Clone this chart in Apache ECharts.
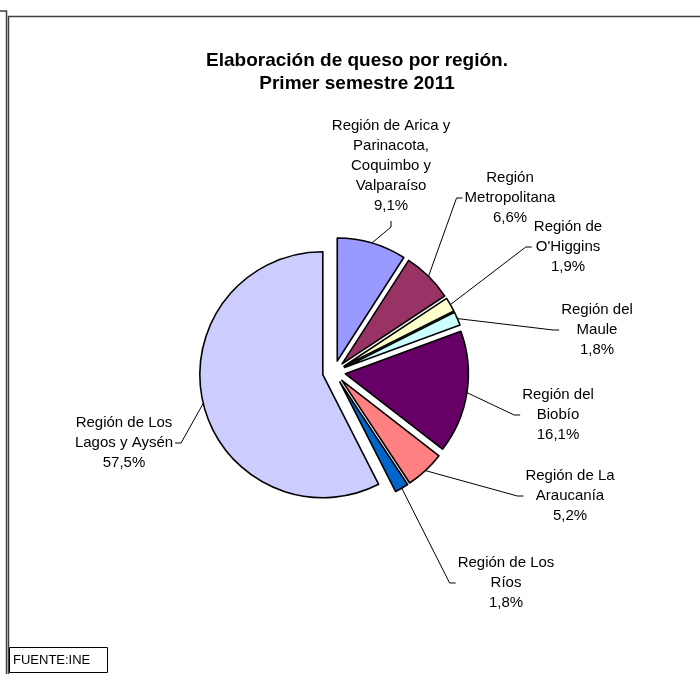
<!DOCTYPE html>
<html>
<head>
<meta charset="utf-8">
<script src="https://cdn.jsdelivr.net/npm/echarts@6/dist/echarts.min.js"></script>
<style>
html, body { margin: 0; padding: 0; background: #ffffff; }
#chart { width: 700px; height: 674px; }
</style>
</head>
<body>
<div id="chart"></div>
<script>
// ---- data ----
const categories = [
  'Región de Arica y Parinacota, Coquimbo y Valparaíso',
  'Región Metropolitana',
  "Región de O'Higgins",
  'Región del Maule',
  'Región del Biobío',
  'Región de La Araucanía',
  'Región de Los Ríos',
  'Región de Los Lagos y Aysén'
];
const labelText = [
  ['Región de Arica y', 'Parinacota,', 'Coquimbo y', 'Valparaíso'],
  ['Región', 'Metropolitana'],
  ['Región de', "O'Higgins"],
  ['Región del', 'Maule'],
  ['Región del', 'Biobío'],
  ['Región de La', 'Araucanía'],
  ['Región de Los', 'Ríos'],
  ['Región de Los', 'Lagos y Aysén']
];
const shares = [9.1, 6.6, 1.9, 1.8, 16.1, 5.2, 1.8, 57.5];
const titleLines = ['Elaboración de queso por región.', 'Primer semestre 2011'];
const sourceText = 'FUENTE:INE';

// ---- styles / layout ----
const colors = ['#9999FF', '#993366', '#FFFFCC', '#CCFFFF', '#660066', '#FF8080', '#0066CC', '#CCCCFF'];
const labelPos = [[391, 166], [510, 198], [568, 247], [597, 330], [558, 415], [570, 496], [506, 583], [124, 443]];
const labelSide = ['bottom', 'left', 'left', 'left', 'left', 'left', 'left', 'right'];
const PIE_C = [334, 372];
const PIE_R = 123;
const EXPLODE = 11.5;
const FONT = "'Liberation Sans', Arial, Helvetica, sans-serif";

const total = shares.reduce((a, b) => a + b, 0);
let acc = 0;
const mids = shares.map(v => { const m = (acc + v / 2) / total * 2 * Math.PI; acc += v; return m; });
const centers = mids.map(t => [PIE_C[0] + EXPLODE * Math.sin(t), PIE_C[1] - EXPLODE * Math.cos(t)]);
const fmt = v => v.toFixed(1).replace('.', ',') + '%';

const series = shares.map((_, i) => ({
  type: 'pie',
  silent: true,
  center: centers[i],
  radius: PIE_R,
  startAngle: 90,
  clockwise: true,
  avoidLabelOverlap: false,
  animation: false,
  z: 2,
  emphasis: { disabled: true },
  label: {
    show: false,
    position: 'outside',
    fontFamily: FONT,
    fontSize: 15,
    lineHeight: 20,
    color: '#000000',
    align: 'center'
  },
  labelLine: { show: false, lineStyle: { color: '#000000', width: 1 } },
  labelLayout: function (p) {
    if (p.dataIndex !== i) return {};
    const lx = labelPos[i][0], ly = labelPos[i][1];
    const w = p.labelRect.width, h = p.labelRect.height;
    const t = mids[i];
    const p0 = [centers[i][0] + PIE_R * Math.sin(t), centers[i][1] - PIE_R * Math.cos(t)];
    let p1, p2;
    if (labelSide[i] === 'bottom') {
      p2 = [lx, ly + h / 2 + 5];
      p1 = [lx, ly + h / 2 + 11];
    } else if (labelSide[i] === 'left') {
      p2 = [lx - w / 2 - 2, ly];
      p1 = [p2[0] - 6, ly];
    } else {
      p2 = [lx + w / 2 + 2, ly];
      p1 = [p2[0] + 6, ly];
    }
    return { x: lx, y: ly, align: 'center', verticalAlign: 'middle', labelLinePoints: [p0, p1, p2] };
  },
  data: shares.map((v, j) => j === i ? {
    name: categories[j],
    value: v,
    itemStyle: { color: colors[j], borderColor: '#000000', borderWidth: 1.6 },
    label: { show: true, formatter: labelText[j].join('\n') + '\n' + fmt(v) },
    labelLine: { show: true }
  } : {
    name: categories[j],
    value: v,
    itemStyle: { color: 'rgba(0,0,0,0)', borderWidth: 0 },
    label: { show: false },
    labelLine: { show: false }
  })
}));

const chart = echarts.init(document.getElementById('chart'), null, { renderer: 'canvas' });
chart.setOption({
  backgroundColor: '#ffffff',
  animation: false,
  tooltip: { show: false },
  graphic: [
    { type: 'polyline', silent: true, z: 10, shape: { points: [[0, 11], [6.5, 11], [6.5, 674]] }, style: { stroke: '#404040', lineWidth: 1.5, fill: null } },
    { type: 'polyline', silent: true, z: 10, shape: { points: [[8.5, 674], [8.5, 16.5], [700, 16.5]] }, style: { stroke: '#404040', lineWidth: 1.5, fill: null } },
    { type: 'text', silent: true, z: 10, style: { text: titleLines.join('\n'), x: 357, y: 72, align: 'center', verticalAlign: 'middle', font: 'bold 19px ' + FONT, lineHeight: 23, fill: '#000000' } },
    { type: 'rect', silent: true, z: 10, shape: { x: 9.5, y: 647.5, width: 98, height: 25 }, style: { stroke: '#000000', lineWidth: 1, fill: '#ffffff' } },
    { type: 'text', silent: true, z: 11, style: { text: sourceText, x: 13, y: 660, align: 'left', verticalAlign: 'middle', font: '13px ' + FONT, fill: '#000000' } }
  ],
  series: series
});
</script>
</body>
</html>
